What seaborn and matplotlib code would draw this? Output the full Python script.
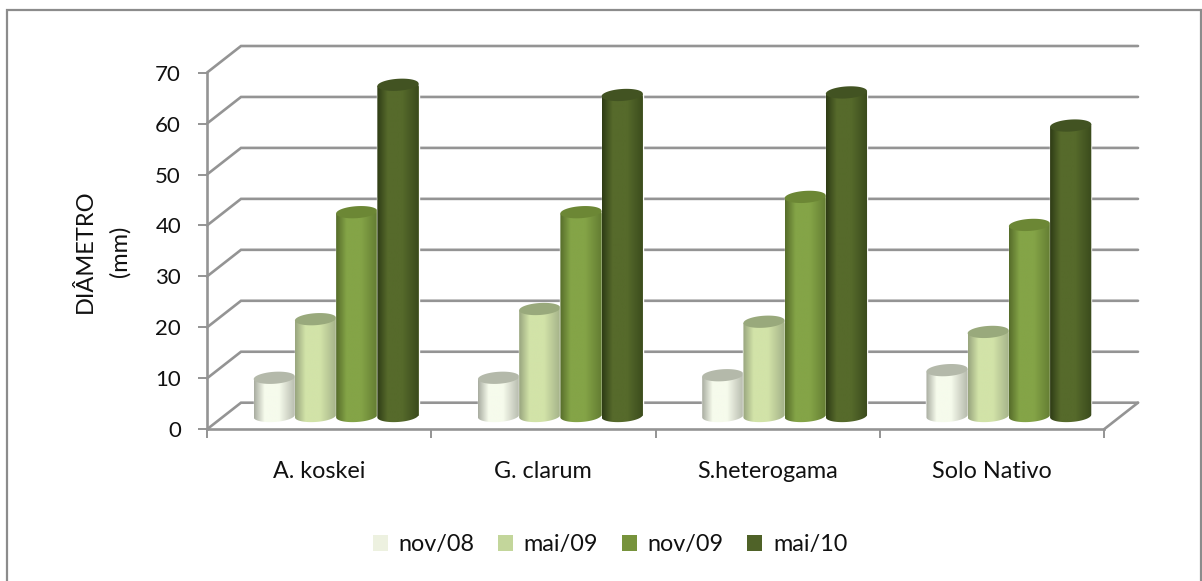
import numpy as np
import pandas as pd
import seaborn as sns
import matplotlib
matplotlib.use("Agg")
import matplotlib.pyplot as plt
from matplotlib.colors import LinearSegmentedColormap
from matplotlib.lines import Line2D
from matplotlib.patches import Patch, PathPatch, Polygon
from matplotlib.path import Path

# Stem diameter per treatment and sampling date
treatments = ["A. koskei", "G. clarum", "S.heterogama", "Solo Nativo"]
dates = ["nov/08", "mai/09", "nov/09", "mai/10"]
nov08 = [7.5, 7.5, 8.0, 9.0]
mai09 = [19.0, 21.0, 18.5, 16.5]
nov09 = [40.0, 40.0, 43.0, 37.5]
mai10 = [65.0, 63.0, 63.5, 57.0]

legend_colors = ["#EDF1E0", "#C3D69B", "#77933C", "#4F6228"]
left_colors = ["#A8ACA0", "#98A57E", "#566C2A", "#2E3B15"]
mid_colors = ["#F6FBEC", "#D2E3A8", "#84A447", "#566A2B"]
right_colors = ["#B5B9AC", "#A3B088", "#637C32", "#3A4A1C"]
cap_colors = ["#B4B9AA", "#99A97C", "#6C8735", "#425322"]
y_ticks = np.arange(0, 71, 10)

W, H = 1202, 581
sns.set_theme(style="white")
plt.rcParams["font.family"] = ["Lato", "DejaVu Sans"]
FS = 16.8
GREY = "#949494"
TEXT = "#111111"

fig = plt.figure(figsize=(W / 100, H / 100), dpi=100, facecolor="white")


def px_axes(left, top, right, bottom):
    return fig.add_axes([left / W, 1 - bottom / H, (right - left) / W, (bottom - top) / H])


# Chart frame: left, top and right edges only
fx = np.array([7.0, 7.0, 1200.5, 1200.5]) / W
fy = 1 - np.array([H + 2, 10.0, 10.0, H + 2]) / H
fig.add_artist(Line2D(fx, fy, transform=fig.transFigure, color="#8C8C8C", lw=1.6,
                      solid_joinstyle="miter"))

# Front plane holds the axes; the bars sit half a floor depth behind it
DX, DY = 17.0, 13.3
L, R, T, B = 207.0, 1104.0, 72.6, 429.3
front = px_axes(L, T, R, B)
bars_ax = px_axes(L + DX, T - DY, R + DX, B - DY)
front.set_zorder(1)
bars_ax.set_zorder(2)
front.patch.set_alpha(0)
bars_ax.patch.set_alpha(0)

for ax in (front, bars_ax):
    ax.set_xlim(-0.5, 3.5)
    ax.set_ylim(0, 70)

# Wall gridlines and side-wall diagonals, one full depth behind the front plane
depth_x = 2 * DX / (R - L) * 4
depth_y = 2 * DY / (B - T) * 70
for v in y_ticks:
    front.plot([-0.5, -0.5 + depth_x, 3.5 + depth_x], [v, v + depth_y, v + depth_y],
               color=GREY, lw=1.9, clip_on=False, zorder=1, solid_joinstyle="miter")
front.plot([3.5, 3.5 + depth_x], [0, depth_y], color=GREY, lw=1.9, clip_on=False, zorder=1)

for side in ("top", "right"):
    front.spines[side].set_visible(False)
for side in ("left", "bottom"):
    front.spines[side].set_color(GREY)
    front.spines[side].set_linewidth(1.9)
front.set_yticks(y_ticks)
front.set_xticks(np.arange(-0.5, 4.0, 1.0))
front.set_xticklabels([])
front.tick_params(axis="both", length=6.2, width=1.4, color=GREY, labelcolor=TEXT,
                  labelsize=16, left=True, bottom=True)
front.tick_params(axis="y", pad=12.5)
front.set_xticks(np.arange(4), labels=treatments, minor=True)
front.tick_params(axis="x", which="minor", length=0, pad=23, labelsize=FS, labelcolor=TEXT)
front.set_ylabel("DIÂMETRO\n(mm)", fontsize=17, color=TEXT, linespacing=1.75)
front.yaxis.set_label_coords((131 - L) / (R - L), 0.5)

# Bars come from the long-form table
df = pd.DataFrame({
    "treatment": np.tile(treatments, len(dates)),
    "date": np.repeat(dates, len(treatments)),
    "diameter": np.concatenate([nov08, mai09, nov09, mai10]),
})
sns.barplot(data=df, x="treatment", y="diameter", hue="date", order=treatments, hue_order=dates,
            palette=legend_colors, width=0.735, gap=0, saturation=1, legend=False, ax=bars_ax)
bars_ax.axis("off")

# Shade each bar as a cylinder: horizontal gradient body plus tilted elliptical cap and foot
unit_px = (B - T) / 70
CAP_H = 12 / unit_px
TILT = 1.3 / unit_px
for hue_i, container in enumerate(bars_ax.containers):
    cmap = LinearSegmentedColormap.from_list(
        f"cyl{hue_i}",
        [(0.0, left_colors[hue_i]), (0.25, mid_colors[hue_i]), (0.6, mid_colors[hue_i]),
         (1.0, right_colors[hue_i])])
    for patch in container.patches:
        x0, w, h = patch.get_x(), patch.get_width(), patch.get_height()
        z = 3 + hue_i
        patch.set_zorder(z)
        theta = np.linspace(0, 2 * np.pi, 80)
        cx = np.cos(theta)
        ring_x = x0 + w / 2 + w / 2 * cx
        ring_y = CAP_H / 2 * np.sin(theta) + TILT * cx
        lower = theta >= np.pi
        outline = list(zip(ring_x[lower], ring_y[lower])) + [
            (x0 + w, h + TILT), (x0, h - TILT), (ring_x[lower][0], ring_y[lower][0])]
        body = PathPatch(Path(outline), transform=bars_ax.transData, facecolor="none",
                         edgecolor="none")
        bars_ax.add_patch(body)
        img = bars_ax.imshow(np.linspace(0, 1, 128)[None, :], cmap=cmap, aspect="auto",
                             extent=(x0, x0 + w, -2 * CAP_H, h + 2 * CAP_H), zorder=z + 0.1,
                             interpolation="bilinear")
        img.set_clip_path(body)
        img.set_clip_box(fig.bbox)
        bars_ax.add_patch(Polygon(np.column_stack([ring_x, h + ring_y]), closed=True,
                                  facecolor=cap_colors[hue_i], edgecolor="none",
                                  zorder=z + 0.2, clip_on=False))
bars_ax.set_xlim(-0.5, 3.5)
bars_ax.set_ylim(0, 70)

handles = [Patch(facecolor=c, edgecolor="none", label=d) for c, d in zip(legend_colors, dates)]
fig.legend(handles=handles, loc="center", bbox_to_anchor=(610 / W, 1 - 545 / H), ncols=4,
           frameon=False, fontsize=FS, handlelength=0.66, handleheight=0.66, handletextpad=0.45,
           columnspacing=1.0, labelcolor=TEXT)

fig.savefig("out.png", dpi=100, facecolor="white")
